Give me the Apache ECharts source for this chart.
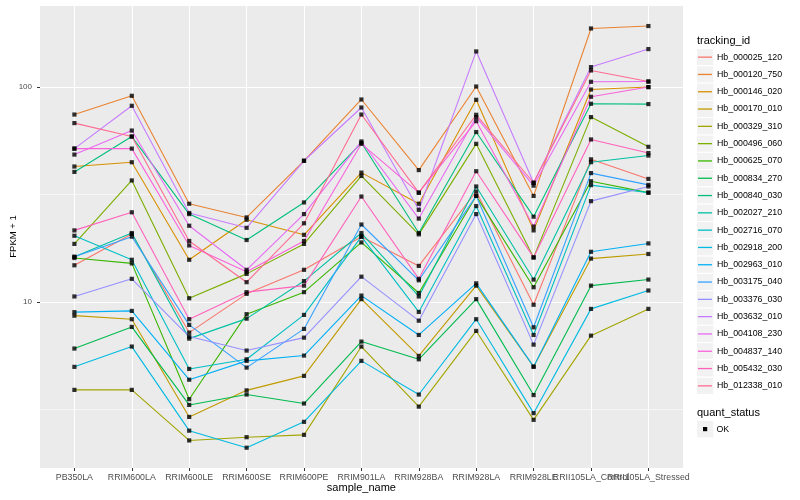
<!DOCTYPE html>
<html><head><meta charset="utf-8">
<script src="https://cdn.jsdelivr.net/npm/echarts@6/dist/echarts.min.js"></script>
<style>html,body{margin:0;padding:0;background:#fff}#c{width:800px;height:500px}</style>
</head><body><div id="c"></div>
<script>
const categories = ['PB350LA','RRIM600LA','RRIM600LE','RRIM600SE','RRIM600PE','RRIM901LA','RRIM928BA','RRIM928LA','RRIM928LE','RRII105LA_Control','RRII105LA_Stressed'];
const trackingIds = ['Hb_000025_120','Hb_000120_750','Hb_000146_020','Hb_000170_010','Hb_000329_310','Hb_000496_060','Hb_000625_070','Hb_000834_270','Hb_000840_030','Hb_002027_210','Hb_002716_070','Hb_002918_200','Hb_002963_010','Hb_003175_040','Hb_003376_030','Hb_003632_010','Hb_004108_230','Hb_004837_140','Hb_005432_030','Hb_012338_010'];
const palette = ['#F8766D','#EA8331','#D89000','#C09B00','#A3A500','#7CAE00','#39B600','#00BB4E','#00BF7D','#00C1A3','#00BFC4','#00BAE0','#00B0F6','#35A2FF','#9590FF','#C77CFF','#E76BF3','#FA62DB','#FF62BC','#FF6C91'];
const yTickValues = [10, 100];
const quantStatus = ['OK'];

const hb_000025_120 = [14.8, 20.7, 7.2, 10.9, 14.1, 20.1, 14.7, 32.6, 9.7, 46.0, 37.3];
const hb_000120_750 = [74.3, 90.8, 28.6, 24.7, 45.3, 87.3, 41.0, 100.3, 31.1, 186.7, 191.6];
const hb_000146_020 = [42.6, 44.6, 15.7, 24.1, 20.5, 39.9, 28.6, 87.0, 21.5, 97.1, 99.7];
const hb_000170_010 = [8.63, 8.31, 2.92, 3.88, 4.53, 10.3, 5.61, 11.9, 5.0, 15.9, 16.7];
const hb_000329_310 = [3.90, 3.90, 2.27, 2.35, 2.41, 6.20, 3.26, 7.33, 2.83, 6.97, 9.28];
const hb_000496_060 = [18.6, 36.7, 10.4, 13.5, 18.6, 38.5, 20.6, 54.3, 16.1, 72.3, 52.6];
const hb_000625_070 = [16.0, 15.1, 3.53, 8.77, 11.1, 18.9, 11.0, 31.1, 11.7, 36.4, 32.2];
const hb_000834_270 = [6.07, 7.65, 3.32, 3.71, 3.37, 6.54, 5.41, 10.3, 3.69, 11.9, 12.7];
const hb_000840_030 = [40.2, 58.7, 25.6, 19.4, 29.0, 54.9, 20.9, 61.6, 24.9, 83.4, 83.1];
const hb_002027_210 = [16.2, 20.9, 6.75, 8.36, 12.5, 20.9, 10.6, 34.4, 12.7, 44.6, 47.9];
const hb_002716_070 = [20.3, 15.7, 4.88, 5.41, 8.70, 20.1, 8.98, 27.9, 7.02, 34.9, 32.2];
const hb_002918_200 = [4.99, 6.20, 2.52, 2.10, 2.77, 5.32, 3.71, 8.31, 3.04, 9.28, 11.3];
const hb_002963_010 = [8.96, 9.08, 4.35, 5.32, 5.63, 10.7, 7.02, 12.2, 5.00, 17.1, 18.7];
const hb_003175_040 = [16.2, 20.1, 7.82, 4.95, 7.49, 22.9, 12.6, 31.1, 7.62, 39.7, 35.0];
const hb_003376_030 = [10.6, 12.8, 6.90, 5.94, 6.82, 13.1, 8.18, 25.6, 6.33, 29.4, 34.4];
const hb_003632_010 = [51.6, 81.6, 25.9, 22.1, 45.3, 80.1, 26.8, 146.0, 35.8, 123.5, 149.7];
const hb_004108_230 = [48.4, 62.6, 22.6, 14.1, 25.6, 55.7, 24.4, 72.3, 34.7, 105.5, 105.8];
const hb_004837_140 = [51.6, 51.6, 18.3, 13.8, 19.2, 54.3, 32.2, 69.2, 22.4, 89.9, 99.7];
const hb_005432_030 = [21.5, 26.1, 8.31, 11.1, 11.9, 30.9, 12.8, 40.5, 16.1, 56.9, 49.2];
const hb_012338_010 = [67.8, 58.7, 19.2, 12.35, 23.2, 74.3, 32.2, 74.1, 35.8, 119.1, 105.8];

const seriesValues = [hb_000025_120, hb_000120_750, hb_000146_020, hb_000170_010, hb_000329_310, hb_000496_060, hb_000625_070, hb_000834_270, hb_000840_030, hb_002027_210, hb_002716_070, hb_002918_200, hb_002963_010, hb_003175_040, hb_003376_030, hb_003632_010, hb_004108_230, hb_004837_140, hb_005432_030, hb_012338_010];

const FONT = 'Liberation Sans, Arial, Helvetica, sans-serif';
const Y_MIN = 1.69, Y_MAX = 240;
const LEG_TOP = 48.5, ROW = 17.3, KEY_X = 696.5;

const lineSeries = trackingIds.map((id, i) => ({
  name: id, type: 'line', xAxisIndex: 1, yAxisIndex: 2,
  data: seriesValues[i], showSymbol: false, symbol: 'none',
  lineStyle: { color: palette[i], width: 1.1 }, itemStyle: { color: palette[i] },
  z: 2, silent: true, animation: false
}));
const pointData = [];
seriesValues.forEach(vals => vals.forEach((v, j) => pointData.push([j, v])));
const pointSeries = {
  name: 'OK', type: 'scatter', xAxisIndex: 1, yAxisIndex: 2, data: pointData,
  symbol: 'rect', symbolSize: 4.2, itemStyle: { color: '#000' }, z: 3, silent: true, animation: false
};

function isMajor(v) {
  const n = Number(v);
  return yTickValues.some(t => Math.abs(t - n) / t < 1e-3);
}

const graphics = [];
trackingIds.forEach((id, i) => {
  graphics.push({ type: 'rect', shape: { x: KEY_X, y: LEG_TOP + ROW * i, width: 17.3, height: ROW },
    style: { fill: '#F2F2F2', stroke: '#fff', lineWidth: 1 }, z: 1 });
});
graphics.push({ type: 'text', style: { text: 'tracking_id', x: 697, y: 41, fill: '#000', fontSize: 11, fontFamily: FONT, verticalAlign: 'middle' } });
graphics.push({ type: 'text', style: { text: 'quant_status', x: 697, y: 412.5, fill: '#000', fontSize: 11, fontFamily: FONT, verticalAlign: 'middle' } });
graphics.push({ type: 'rect', shape: { x: KEY_X, y: 420.5, width: 17.3, height: 17.3 }, style: { fill: '#F2F2F2', stroke: '#fff', lineWidth: 1 } });
graphics.push({ type: 'rect', shape: { x: 703, y: 427, width: 4.2, height: 4.2 }, style: { fill: '#000' } });
graphics.push({ type: 'text', style: { text: quantStatus[0], x: 716.5, y: 429.2, fill: '#000', fontSize: 8.8, fontFamily: FONT, verticalAlign: 'middle' } });

const chart = echarts.init(document.getElementById('c'), null, { renderer: 'canvas' });
chart.setOption({
  animation: false,
  backgroundColor: '#fff',
  textStyle: { fontFamily: FONT },
  grid: [
    { left: 40, top: 5, width: 643, height: 463, show: true, backgroundColor: '#EBEBEB', borderWidth: 0, containLabel: false, outerBoundsMode: 'none' },
    { left: 74.4, top: 5, width: 574, height: 463, show: false, containLabel: false, outerBoundsMode: 'none' }
  ],
  xAxis: [
    { gridIndex: 0, type: 'value', min: 0, max: 1, show: false },
    { gridIndex: 1, type: 'category', boundaryGap: false, data: categories,
      axisLine: { show: false },
      axisTick: { show: true, length: 3, interval: 0, lineStyle: { color: '#333', width: 1 } },
      axisLabel: { interval: 0, color: '#4D4D4D', fontSize: 8.8, margin: 5.5, fontFamily: FONT, hideOverlap: false },
      splitLine: { show: true, interval: 0, lineStyle: { color: '#fff', width: 1.1 } },
      name: 'sample_name', nameLocation: 'middle', nameGap: 14.5, nameMoveOverlap: false,
      nameTextStyle: { color: '#000', fontSize: 11, fontFamily: FONT } }
  ],
  yAxis: [
    { gridIndex: 0, type: 'log', logBase: 10, min: Y_MIN, max: Y_MAX,
      axisLine: { show: false },
      axisTick: { show: true, length: 3, lineStyle: { color: '#333', width: 1 } },
      axisLabel: { color: '#4D4D4D', fontSize: 8, margin: 8, fontFamily: FONT,
        showMinLabel: false, showMaxLabel: false,
        formatter: v => (isMajor(v) ? String(Math.round(Number(v))) : '') },
      splitLine: { show: true, lineStyle: { color: '#fff', width: 1.1 } },
      name: 'FPKM + 1', nameLocation: 'middle', nameGap: 22, nameRotate: 90, nameMoveOverlap: false,
      nameTextStyle: { color: '#000', fontSize: 9.5, fontFamily: FONT } },
    { gridIndex: 0, type: 'log', logBase: Math.sqrt(10), min: Y_MIN, max: Y_MAX, splitNumber: 4,
      axisLine: { show: false }, axisTick: { show: false }, axisLabel: { show: false },
      splitLine: { show: true, lineStyle: { color: '#fff', width: 0.55 } } },
    { gridIndex: 1, type: 'log', logBase: 10, min: Y_MIN, max: Y_MAX, show: false,
      axisLine: { show: false }, axisTick: { show: false }, axisLabel: { show: false }, splitLine: { show: false } }
  ],
  legend: {
    orient: 'vertical', left: 698, top: LEG_TOP, itemGap: 0, itemWidth: 14, itemHeight: 1.3,
    icon: 'rect', selectedMode: false, padding: 0,
    textStyle: { color: '#000', fontSize: 8.8, fontFamily: FONT, lineHeight: ROW, padding: [0, 0, 0, 0] },
    data: trackingIds.map((id, i) => ({ name: id, icon: 'rect', itemStyle: { color: palette[i] } }))
  },
  graphic: graphics,
  series: lineSeries.concat([pointSeries])
});
</script>
</body></html>
